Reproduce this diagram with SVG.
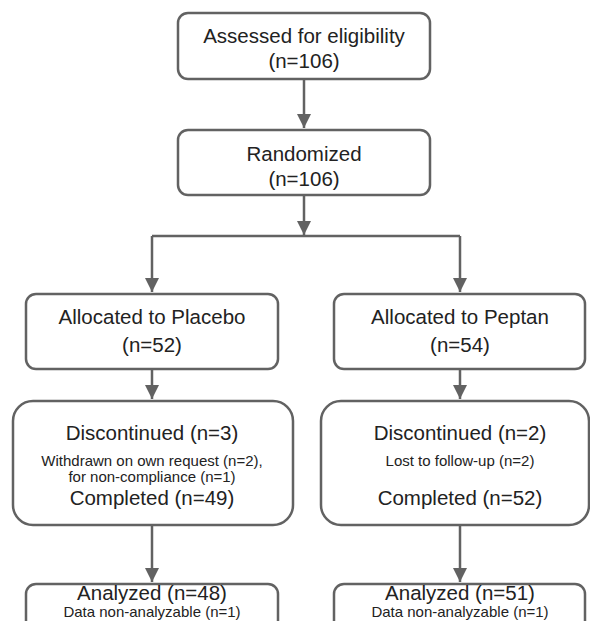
<svg xmlns="http://www.w3.org/2000/svg" width="590" height="621" viewBox="0 0 590 621">
<style>
.box{fill:#ffffff;stroke:#626262;stroke-width:2.5}
.con{fill:none;stroke:#626262;stroke-width:2.5}
text{font-family:"Liberation Sans",Arial,sans-serif;fill:#222222;text-anchor:middle}
.big{font-size:20.5px}
.small{font-size:15px}
</style>
<defs>
<marker id="arr" markerUnits="userSpaceOnUse" markerWidth="15" markerHeight="15" refX="14" refY="7" orient="auto">
<path d="M0,0 L14,7 L0,14 Z" fill="#626262"/>
</marker>
</defs>
<rect width="590" height="621" fill="#ffffff"/>
<g id="connectors">
<path class="con" d="M304,79 V128" marker-end="url(#arr)"/>
<path class="con" d="M304,195 V235" marker-end="url(#arr)"/>
<path class="con" d="M152,236 H460"/>
<path class="con" d="M152,236 V292" marker-end="url(#arr)"/>
<path class="con" d="M460,236 V292" marker-end="url(#arr)"/>
<path class="con" d="M152,369 V399" marker-end="url(#arr)"/>
<path class="con" d="M460,369 V399" marker-end="url(#arr)"/>
<path class="con" d="M152,525 V582" marker-end="url(#arr)"/>
<path class="con" d="M460,525 V582" marker-end="url(#arr)"/>
</g>
<g id="assessed">
<rect class="box" x="178" y="13" width="252" height="66" rx="10"/>
<text class="big" x="304" y="43">Assessed for eligibility</text>
<text class="big" x="304" y="68">(n=106)</text>
</g>
<g id="randomized">
<rect class="box" x="178" y="130" width="252" height="65" rx="10"/>
<text class="big" x="304" y="161">Randomized</text>
<text class="big" x="304" y="186">(n=106)</text>
</g>
<g id="alloc-placebo">
<rect class="box" x="26" y="294" width="252" height="75" rx="10"/>
<text class="big" x="152" y="324">Allocated to Placebo</text>
<text class="big" x="152" y="352">(n=52)</text>
</g>
<g id="alloc-peptan">
<rect class="box" x="334" y="294" width="251" height="75" rx="10"/>
<text class="big" x="460" y="324">Allocated to Peptan</text>
<text class="big" x="460" y="352">(n=54)</text>
</g>
<g id="disc-placebo">
<rect class="box" x="13" y="401" width="280" height="124" rx="20"/>
<text class="big" x="152" y="440">Discontinued (n=3)</text>
<text class="small" x="152" y="466">Withdrawn on own request (n=2),</text>
<text class="small" x="152" y="482">for non-compliance (n=1)</text>
<text class="big" x="152" y="505">Completed (n=49)</text>
</g>
<g id="disc-peptan">
<rect class="box" x="321" y="401" width="268" height="124" rx="20"/>
<text class="big" x="460" y="440">Discontinued (n=2)</text>
<text class="small" x="460" y="466">Lost to follow-up (n=2)</text>
<text class="big" x="460" y="505">Completed (n=52)</text>
</g>
<g id="analyzed-placebo">
<rect class="box" x="26" y="584" width="252" height="60" rx="10"/>
<text class="big" x="152" y="600">Analyzed (n=48)</text>
<text class="small" x="152" y="617">Data non-analyzable (n=1)</text>
</g>
<g id="analyzed-peptan">
<rect class="box" x="334" y="584" width="251" height="60" rx="10"/>
<text class="big" x="460" y="600">Analyzed (n=51)</text>
<text class="small" x="460" y="617">Data non-analyzable (n=1)</text>
</g>
</svg>
